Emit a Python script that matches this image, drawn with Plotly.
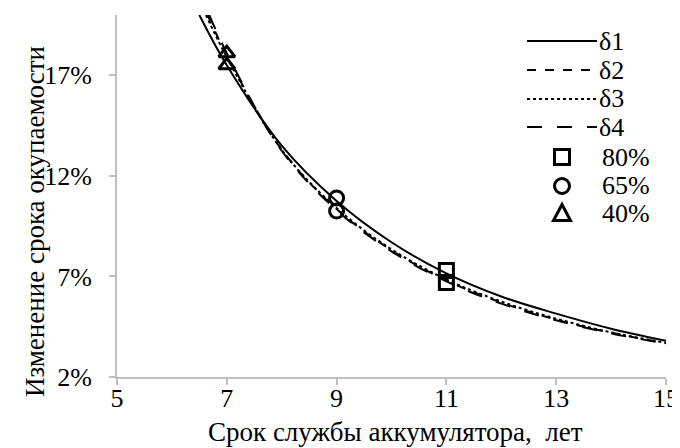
import plotly.graph_objects as go

# Trend curves (x in years, y in %)
d1_x = [6.5, 7, 8, 9, 10, 11, 12, 13, 14, 15]
d1_y = [20.0, 17.5, 13.5, 10.75, 8.7, 7.15, 6.0, 5.15, 4.4, 3.8]
d2_x = [6.65, 7, 8, 9, 10, 11, 12, 13, 14, 15]
d2_y = [20.0, 18.0, 13.3, 10.35, 8.3, 6.8, 5.7, 4.85, 4.2, 3.68]
d3_x = [6.62, 7, 8, 9, 10, 11, 12, 13, 14, 15]
d3_y = [20.0, 17.9, 13.3, 10.4, 8.35, 6.85, 5.75, 4.9, 4.22, 3.7]
d4_x = [6.68, 7, 8, 9, 10, 11, 12, 13, 14, 15]
d4_y = [20.0, 18.1, 13.25, 10.3, 8.25, 6.75, 5.65, 4.82, 4.17, 3.66]

# Data points
p80_x = [11, 11]
p80_y = [7.3, 6.7]
p65_x = [9, 9]
p65_y = [10.9, 10.25]
p40_x = [7, 7]
p40_y = [18.1, 17.5]

x_ticks = [5, 7, 9, 11, 13, 15]
y_ticks = [2, 7, 12, 17]
y_tick_labels = ["2%", "7%", "12%", "17%"]

line_names = ["δ1", "δ2", "δ3", "δ4"]
line_dashes = ["solid", "dash", "dot", "longdash"]
marker_names = ["80%", "65%", "40%"]
marker_symbols = ["square-open", "circle-open", "triangle-up-open"]

x_title = "Срок службы аккумулятора,  лет"
y_title = "Изменение срока окупаемости"

FONT = "Liberation Serif"
OFF = 8  # page body margin in the screenshot
# plot-area edges in screenshot pixels
PL, PR, PT, PB = 117, 666, 15, 377
W, H = 680 - OFF, 448 - OFF
PW, PH = PR - PL, PB - PT


def px_x(px):
    return (px - PL) / PW


def px_y(py):
    return 1 - (py - PT) / PH


fig = go.Figure()
for name, xs, ys, dash in zip(line_names, [d1_x, d2_x, d3_x, d4_x], [d1_y, d2_y, d3_y, d4_y], line_dashes):
    fig.add_trace(go.Scatter(
        x=xs, y=ys, name=name, mode="lines",
        line=dict(color="black", width=2, dash=dash, shape="spline", smoothing=1.0),
    ))

for name, xs, ys, sym in zip(marker_names, [p80_x, p65_x, p40_x], [p80_y, p65_y, p40_y], marker_symbols):
    fig.add_trace(go.Scatter(
        x=xs, y=ys, name=name, mode="markers",
        marker=dict(symbol=sym, size=14, color="black", line=dict(color="black", width=3)),
    ))

# Manual legend (Excel-style, tight rows)
shapes = []
annotations = []
row_y = [41, 70, 99, 127, 157, 186, 213]
for i, (name, dash) in enumerate(zip(line_names, line_dashes)):
    y = row_y[i]
    shapes.append(dict(type="line", xref="paper", yref="paper",
                       x0=px_x(527), x1=px_x(597), y0=px_y(y), y1=px_y(y),
                       line=dict(color="black", width=2, dash=dash)))
    annotations.append(dict(xref="paper", yref="paper", x=px_x(597), y=px_y(y),
                            text=name, showarrow=False, xanchor="left", yanchor="middle",
                            font=dict(family=FONT, size=26, color="black")))
cx = 562
s = 7.5
for j, name in enumerate(marker_names):
    y = row_y[4 + j]
    if j == 0:
        shapes.append(dict(type="rect", xref="paper", yref="paper",
                           x0=px_x(cx - s), x1=px_x(cx + s), y0=px_y(y - s), y1=px_y(y + s),
                           line=dict(color="black", width=3)))
    elif j == 1:
        shapes.append(dict(type="circle", xref="paper", yref="paper",
                           x0=px_x(cx - s), x1=px_x(cx + s), y0=px_y(y - s), y1=px_y(y + s),
                           line=dict(color="black", width=3)))
    else:
        path = "M {:.4f} {:.4f} L {:.4f} {:.4f} L {:.4f} {:.4f} Z".format(
            px_x(cx), px_y(y - s - 1), px_x(cx - s - 1), px_y(y + s), px_x(cx + s + 1), px_y(y + s))
        shapes.append(dict(type="path", xref="paper", yref="paper", path=path,
                           line=dict(color="black", width=3)))
    annotations.append(dict(xref="paper", yref="paper", x=px_x(600), y=px_y(y),
                            text=name, showarrow=False, xanchor="left", yanchor="middle",
                            font=dict(family=FONT, size=26, color="black")))

# Axis titles
annotations.append(dict(xref="paper", yref="paper", x=px_x(395), y=px_y(432),
                        text=x_title, showarrow=False, xanchor="center", yanchor="middle",
                        font=dict(family=FONT, size=27, color="black")))
annotations.append(dict(xref="paper", yref="paper", x=px_x(35), y=px_y(222),
                        text=y_title, showarrow=False, xanchor="center", yanchor="middle",
                        textangle=-90, font=dict(family=FONT, size=27, color="black")))

fig.update_layout(
    width=W, height=H,
    margin=dict(l=PL - OFF, r=W - (PR - OFF), t=PT - OFF, b=H - (PB - OFF), pad=0, autoexpand=False),
    paper_bgcolor="white", plot_bgcolor="white",
    font=dict(family=FONT, size=26, color="black"),
    showlegend=False,
    shapes=shapes,
    annotations=annotations,
    xaxis=dict(
        range=[5, 15], tickmode="array", tickvals=x_ticks, showgrid=False, zeroline=False,
        showline=True, linecolor="#bfbfbf", linewidth=2, automargin=False,
        ticks="outside", ticklen=6, tickcolor="#bfbfbf", tickwidth=2,
        tickfont=dict(size=26, family=FONT, color="black"), ticklabelstandoff=-9,
    ),
    yaxis=dict(
        range=[2, 20], tickmode="array", tickvals=y_ticks, ticktext=y_tick_labels,
        showgrid=False, zeroline=False, automargin=False,
        showline=True, linecolor="#bfbfbf", linewidth=2,
        ticks="outside", ticklen=6, tickcolor="#bfbfbf", tickwidth=2,
        tickfont=dict(size=26, family=FONT, color="black"), ticklabelstandoff=12,
    ),
)

fig.write_html("out.html")
